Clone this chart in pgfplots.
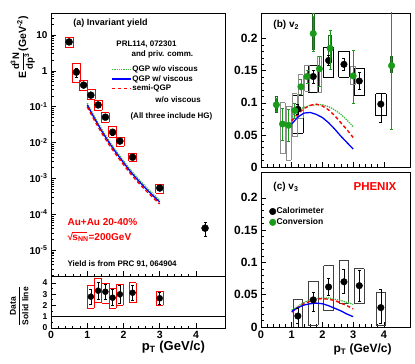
\documentclass[border=0pt]{standalone}
\usepackage{pgfplots}
\pgfplotsset{compat=1.18}
\usepackage{pgfplotstable}
\usepackage{fontspec}
\setmainfont{Liberation Sans}

\definecolor{mkgreen}{RGB}{25,155,25}
\definecolor{lngreen}{RGB}{60,185,60}
\definecolor{boxgray}{RGB}{140,140,140}
\definecolor{boxgreen}{RGB}{30,100,30}

\newcommand{\fs}[1]{\bfseries\fontsize{#1}{\dimexpr #1pt*6/5\relax}\selectfont}

% ---- panel (a): invariant yield ----
\pgfplotstableread{
x y ey
0.5 6.4 0.6
0.7 0.92 0.25
0.9 0.40 0.05
1.1 0.21 0.02
1.3 0.112 0.01
1.5 0.051 0.005
1.7 0.0194 0.003
1.9 0.0110 0.0015
2.25 0.0039 0.0005
3.0 5.4e-4 0.6e-4
4.25 4.1e-5 1.7e-5
}\yield
\pgfplotstableread{
x lo hi
0.5 4.4 8.8
0.7 0.49 1.65
0.9 0.28 0.55
1.1 0.163 0.31
1.3 0.080 0.153
1.5 0.037 0.068
1.7 0.0139 0.029
1.9 0.0079 0.0144
2.25 0.0030 0.0051
3.0 3.9e-4 6.8e-4
}\yieldbox
\pgfplotstableread{
x green solid red
1.0 0.125 0.112 0.0986
1.2 0.0524 0.0468 0.0412
1.4 0.0234 0.0209 0.0184
1.6 0.0112 0.0100 0.0088
1.8 0.00575 0.00513 0.00451
2.0 0.00308 0.00275 0.00242
2.2 0.00169 0.00151 0.00133
2.4 9.97e-4 8.9e-4 7.8e-4
2.6 6.05e-4 5.4e-4 4.75e-4
2.8 3.8e-4 3.4e-4 2.99e-4
3.0 2.46e-4 2.2e-4 1.94e-4
}\yieldth
% ratio data / solid line
\pgfplotstableread{
x y ey
1.1 2.77 0.65
1.3 3.30 0.75
1.5 3.21 0.70
1.7 2.68 0.70
1.9 2.98 0.80
2.25 3.12 0.70
3.0 2.63 0.55
}\ratio
\pgfplotstableread{
x lo hi
1.1 1.78 3.80
1.3 2.28 4.39
1.5 2.20 3.95
1.7 1.75 3.50
1.9 2.04 3.88
2.25 2.25 4.00
3.0 2.04 3.27
}\ratiobox

% ---- panel (b): v2 ----
\pgfplotstableread{
x y ep em
1.2 0.090 0.008 0.008
1.7 0.141 0.010 0.010
2.2 0.166 0.008 0.008
2.7 0.160 0.010 0.010
3.2 0.134 0.013 0.013
3.9 0.098 0.017 0.028
}\vtwocal
\pgfplotstableread{
x lo hi
1.2 0.053 0.112
1.7 0.117 0.159
2.2 0.139 0.186
2.7 0.140 0.180
3.2 0.112 0.153
3.9 0.080 0.114
}\vtwocalbox
\pgfplotstableread{
x y ep em
0.5 0.097 0.010 0.010
0.7 0.067 0.025 0.025
0.9 0.065 0.025 0.025
1.1 0.088 0.012 0.012
1.3 0.125 0.012 0.012
1.5 0.141 0.010 0.010
1.7 0.208 0.027 0.028
1.9 0.153 0.020 0.027
2.25 0.185 0.028 0.033
3.0 0.142 0.040 0.042
4.25 0.158 0.090 0.100
}\vtwoconv
\pgfplotstableread{
x lo hi
0.7 0.021 0.100
0.9 0.011 0.095
1.1 0.047 0.114
1.3 0.076 0.144
1.5 0.118 0.159
1.9 0.116 0.173
3.0 0.128 0.157
}\vtwoconvbox
\pgfplotstableread{
x lo hi
0.5 0.085 0.110
1.7 0.183 0.240
2.25 0.162 0.205
4.25 0.147 0.172
}\vtwoconvboxg
\pgfplotstableread{
x green solid red
1.0 0.078 0.067 0.072
1.2 0.088 0.078 0.083
1.4 0.093 0.084 0.091
1.6 0.096 0.085 0.096
1.8 0.097 0.082 0.098
2.0 0.097 0.077 0.095
2.2 0.094 0.069 0.089
2.4 0.089 0.059 0.080
2.6 0.082 0.048 0.069
2.8 0.073 0.038 0.058
3.0 0.063 0.028 0.046
}\vtwoth

% ---- panel (c): v3 ----
\pgfplotstableread{
x y ep em
1.2 0.017 0.012 0.012
1.7 0.042 0.011 0.017
2.2 0.062 0.013 0.013
2.7 0.070 0.020 0.018
3.2 0.064 0.024 0.024
3.9 0.030 0.028 0.025
}\vthreecal
\pgfplotstableread{
x lo hi
1.2 0.000 0.042
1.7 0.003 0.071
2.2 0.025 0.095
2.7 0.036 0.103
3.2 0.036 0.090
3.9 0.003 0.053
}\vthreebox
\pgfplotstableread{
x green solid red
1.0 0.026 0.024 0.023
1.2 0.032 0.030 0.030
1.4 0.038 0.034 0.036
1.6 0.042 0.036 0.040
1.8 0.044 0.037 0.043
2.0 0.045 0.036 0.044
2.2 0.045 0.033 0.043
2.4 0.043 0.029 0.041
2.6 0.041 0.025 0.037
2.8 0.038 0.020 0.033
3.0 0.035 0.016 0.028
}\vthreeth

\pgfplotsset{
  rootaxis/.style={scale only axis, clip mode=individual, tick align=inside, tick pos=left,
    major tick length=5pt, minor tick length=2.5pt,
    tick style={black, line width=0.5pt},
    axis line style={line width=0.6pt},
    /pgf/number format/assume math mode=true,
    /pgf/number format/fixed},
  staterr/.style={error bars/.cd, y dir=both, y explicit, error mark=-,
    error mark options={rotate=90, mark size=1.5pt, line width=0.6pt},
    error bar style={line width=0.6pt, solid}},
  thgreen/.style={lngreen, densely dotted, line width=1.3pt},
  thblue/.style={blue, line width=1.3pt},
  thred/.style={red, dash pattern=on 3.5pt off 2.5pt, line width=1.4pt},
}

% systematic boxes drawn as bare error bars: table, half width, colour, line width
\newcommand{\sysboxes}[4]{%
  \addplot[forget plot, draw=none, mark=none, error bars/.cd, x dir=both, x fixed=#2,
    error mark=none, error bar style={draw=#3, line width=#4, solid}] table[x=x, y=lo] {#1};
  \addplot[forget plot, draw=none, mark=none, error bars/.cd, x dir=both, x fixed=#2,
    error mark=none, error bar style={draw=#3, line width=#4, solid}] table[x=x, y=hi] {#1};
  \addplot[forget plot, draw=none, mark=none, error bars/.cd, y dir=plus, y explicit,
    error mark=none, error bar style={draw=#3, line width=#4, solid}]
    table[x expr=\thisrow{x}-#2, y=lo, y error expr=\thisrow{hi}-\thisrow{lo}] {#1};
  \addplot[forget plot, draw=none, mark=none, error bars/.cd, y dir=plus, y explicit,
    error mark=none, error bar style={draw=#3, line width=#4, solid}]
    table[x expr=\thisrow{x}+#2, y=lo, y error expr=\thisrow{hi}-\thisrow{lo}] {#1};
}

\begin{document}
\begin{tikzpicture}
\useasboundingbox (0,0) rectangle (415pt,364pt);

% (a) invariant yield
\begin{axis}[rootaxis, at={(51pt,88pt)}, anchor=south west, width=174pt, height=263pt,
  xmin=0, xmax=4.8, ymode=log, ymin=1.9e-6, ymax=41,
  xtick={0,1,2,3,4}, minor x tick num=4, xticklabels={},
  yticklabel style={font=\fs{10}},
  yticklabel={\pgfmathtruncatemacro\ex{round(\tick/ln(10))}\ifnum\ex=0 1\else\ifnum\ex=1 10\else 10\textsuperscript{\ex}\fi\fi},
  ylabel={E\,\begin{tabular}{@{}c@{}}\fs{9.5}d\textsuperscript{3}N\\\hline\fs{9.5}\rule{0pt}{9.5pt}dp\textsuperscript{3}\end{tabular}\,(GeV\textsuperscript{-2})},
  ylabel style={at={(axis description cs:-0.158,0.869)}, anchor=center, font=\fs{10.5}},
  legend style={at={(axis description cs:0.345,0.802)}, anchor=north west, draw=none, fill=none,
    inner sep=0pt, font=\fs{8}, row sep=0.5pt, nodes={inner sep=0.8pt}},
  legend cell align=left,
  legend image code/.code={\draw[#1] (0pt,0pt) -- (19pt,0pt);},
]
\addplot[thgreen] table[x=x, y=green] {\yieldth};
\addlegendentry{QGP w/o viscous}
\addplot[thblue] table[x=x, y=solid] {\yieldth};
\addlegendentry{QGP w/ viscous}
\addplot[thred] table[x=x, y=red] {\yieldth};
\addlegendentry{semi-QGP}
\sysboxes{\yieldbox}{0.11}{red}{0.7pt}
\addplot[forget plot, black, only marks, mark=*, mark size=3.5pt, staterr]
  table[x=x, y=y, y error=ey] {\yield};
\node[anchor=west, font=\fs{9}] at (axis description cs:0.109,0.962) {(a) Invariant yield};
\node[anchor=west, font=\fs{8}] at (axis description cs:0.356,0.882) {PRL114, 072301};
\node[anchor=west, font=\fs{8}] at (axis description cs:0.443,0.844) {and priv. comm.};
\node[anchor=west, font=\fs{8}] at (axis description cs:0.58,0.669) {w/o viscous};
\node[anchor=west, font=\fs{8}] at (axis description cs:0.437,0.608) {(All three include HG)};
\node[anchor=west, font=\fs{10}, red] at (axis description cs:0.075,0.205) {Au+Au 20-40\%};
\node[anchor=west, font=\fs{10}, red] at (axis description cs:0.075,0.148)
  {√\kern-0.6pt\rlap{\rule[0.74em]{1.45em}{0.5pt}}s\textsubscript{NN}=200GeV};
\node[anchor=west, font=\fs{8}] at (axis description cs:0.075,0.046) {Yield is from PRC 91, 064904};
\end{axis}

% (a) ratio panel
\begin{axis}[rootaxis, at={(51pt,36pt)}, anchor=south west, width=174pt, height=52pt,
  xmin=0, xmax=4.8, ymin=0, ymax=4.6,
  xtick={0,1,2,3,4}, minor x tick num=4, ytick={0,1,2,3,4}, minor y tick num=1,
  xticklabel style={font=\fs{10.5}}, yticklabel style={font=\fs{8.5}},
  xlabel={p\textsubscript{T} (GeV/c)},
  xlabel style={at={(axis description cs:0.905,-0.19)}, anchor=north east, font=\fs{13}},
  ylabel={\begin{tabular}{@{}c@{}}Data\\\hline\rule{0pt}{9pt}Solid line\end{tabular}},
  ylabel style={at={(axis description cs:-0.178,0.42)}, anchor=center, font=\fs{8.5}},
]
\addplot[black, line width=0.6pt, forget plot] coordinates {(0,1) (4.8,1)};
\sysboxes{\ratiobox}{0.1}{red}{0.7pt}
\addplot[black, only marks, mark=*, mark size=3pt, staterr]
  table[x=x, y=y, y error=ey] {\ratio};
\end{axis}

% (b) v2
\begin{axis}[rootaxis, at={(261pt,197pt)}, anchor=south west, width=149pt, height=154pt,
  xmin=0, xmax=4.85, ymin=0, ymax=0.24,
  xtick={0,1,2,3,4}, minor x tick num=4, xticklabels={},
  ytick={0,0.05,0.1,0.15,0.2}, minor y tick num=4,
  yticklabel style={font=\fs{12}},
]
\sysboxes{\vtwocalbox}{0.17}{black}{0.7pt}
\sysboxes{\vtwoconvbox}{0.08}{boxgray}{0.8pt}
\sysboxes{\vtwoconvboxg}{0.04}{boxgreen}{0.8pt}
\addplot[thgreen] table[x=x, y=green] {\vtwoth};
\addplot[thred] table[x=x, y=red] {\vtwoth};
\addplot[thblue] table[x=x, y=solid] {\vtwoth};
\addplot[black, only marks, mark=*, mark size=3.3pt, staterr]
  table[x=x, y=y, y error plus=ep, y error minus=em] {\vtwocal};
\addplot[mkgreen, only marks, mark=*, mark size=3.3pt, staterr]
  table[x=x, y=y, y error plus=ep, y error minus=em] {\vtwoconv};
\node[anchor=west, font=\fs{10}] at (axis description cs:0.06,0.92) {(b) v\textsubscript{2}};
\end{axis}

% (c) v3
\begin{axis}[rootaxis, at={(261pt,37pt)}, anchor=south west, width=149pt, height=155pt,
  xmin=0, xmax=4.85, ymin=0, ymax=0.24,
  xtick={0,1,2,3,4}, minor x tick num=4,
  ytick={0,0.05,0.1,0.15,0.2}, minor y tick num=4,
  xticklabel style={font=\fs{11}}, yticklabel style={font=\fs{12}},
  xlabel={p\textsubscript{T} (GeV/c)},
  xlabel style={at={(axis description cs:0.9,-0.084)}, anchor=north east, font=\fs{12}},
  legend style={at={(axis description cs:0.055,0.775)}, anchor=north west, draw=none, fill=none,
    inner sep=0pt, font=\fs{8.5}, row sep=2pt, nodes={inner sep=0.6pt}},
  legend cell align=left,
  legend image code/.code={\draw[#1] plot coordinates {(3pt,0pt)};},
]
\sysboxes{\vthreebox}{0.16}{black!75}{0.8pt}
\addplot[thgreen, forget plot] table[x=x, y=green] {\vthreeth};
\addplot[thred, forget plot] table[x=x, y=red] {\vthreeth};
\addplot[thblue, forget plot] table[x=x, y=solid] {\vthreeth};
\addplot[black, only marks, mark=*, mark size=3.3pt, staterr]
  table[x=x, y=y, y error plus=ep, y error minus=em] {\vthreecal};
\addlegendentry{Calorimeter}
\addlegendimage{mkgreen, only marks, mark=*, mark size=3.3pt}
\addlegendentry{Conversion}
\node[anchor=west, font=\fs{10}] at (axis description cs:0.06,0.903) {(c) v\textsubscript{3}};
\node[font=\fs{11.5}, red] at (axis description cs:0.765,0.903) {PHENIX};
\end{axis}
\end{tikzpicture}
\end{document}
